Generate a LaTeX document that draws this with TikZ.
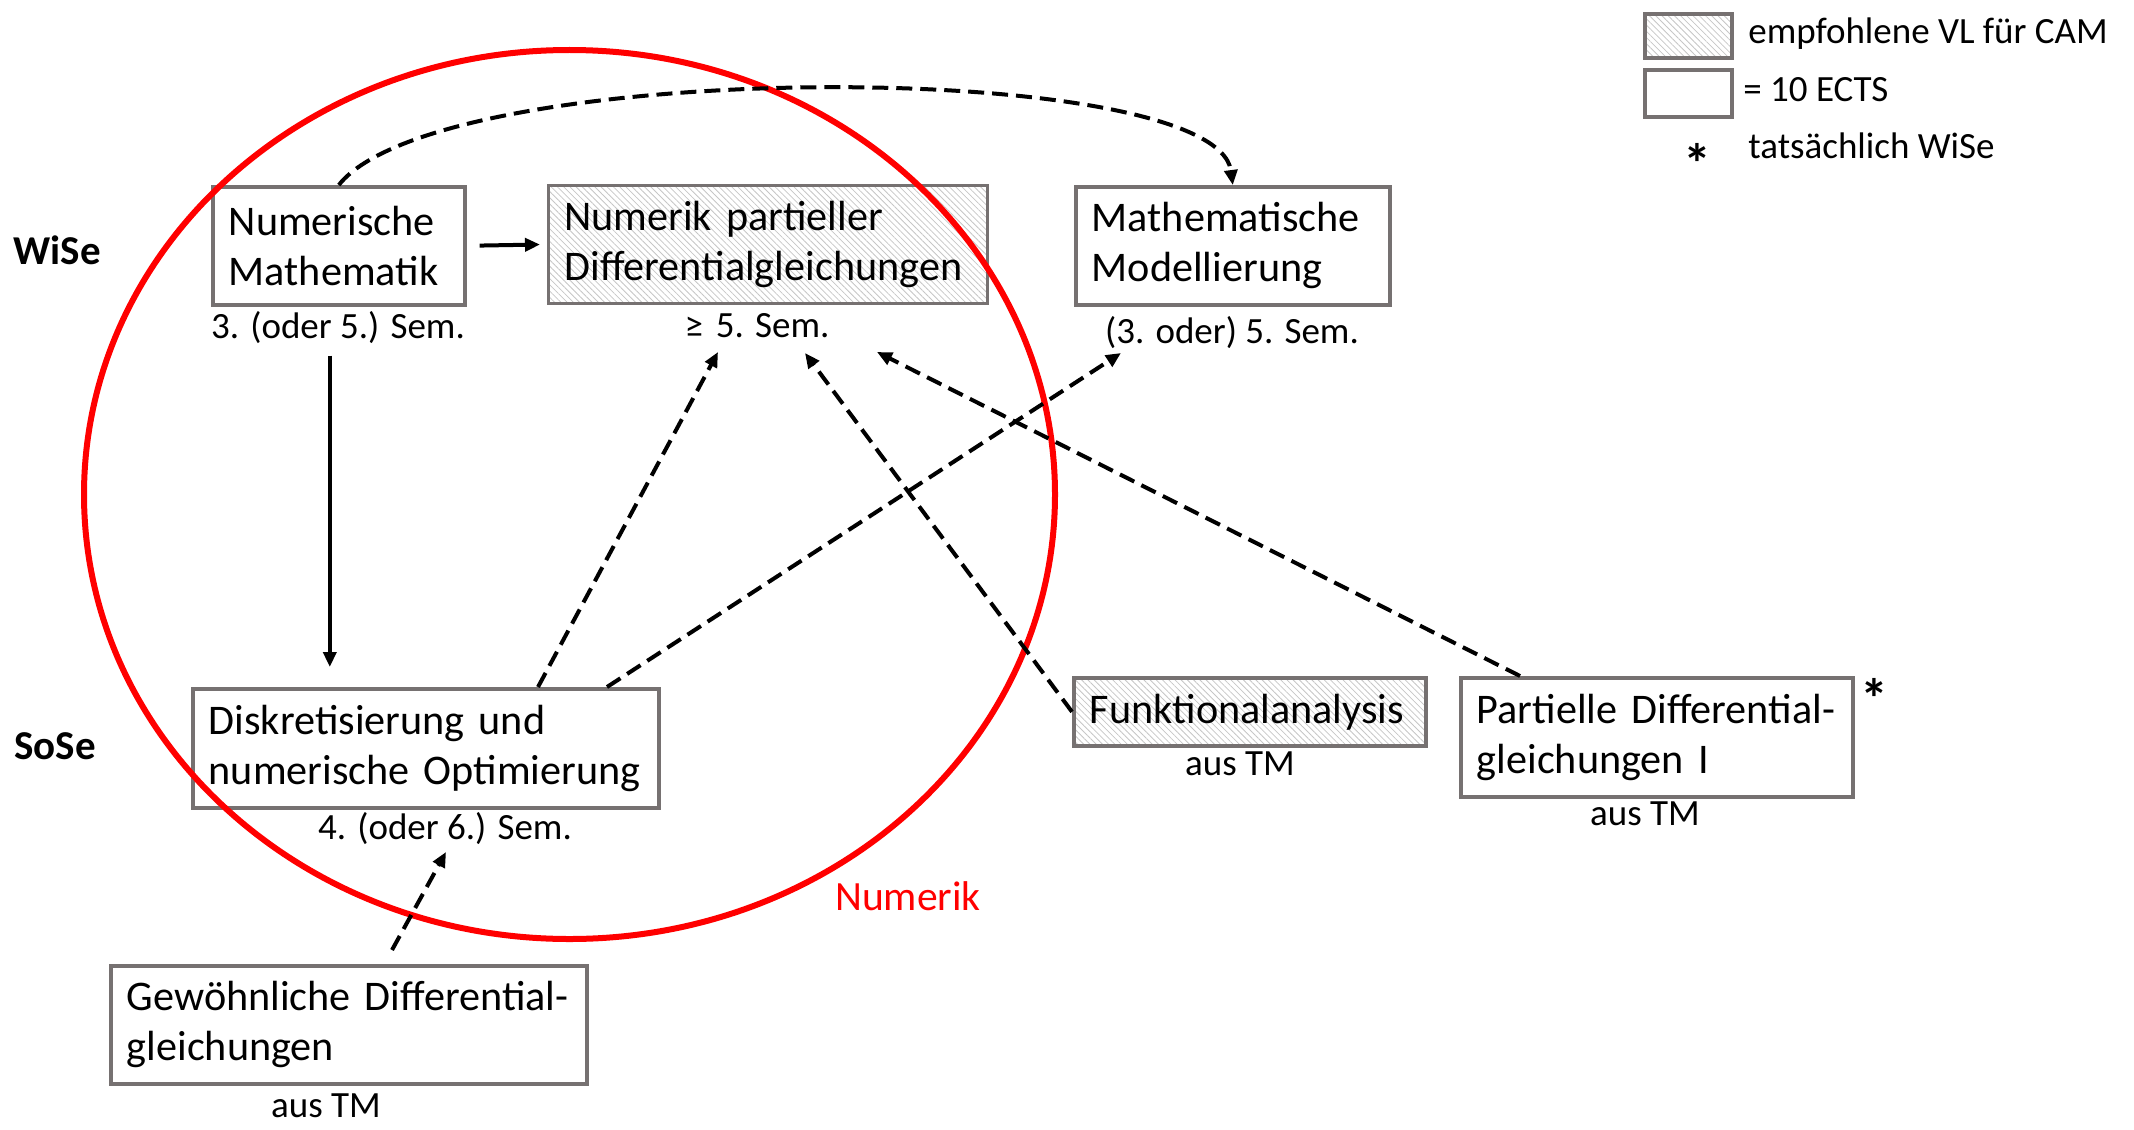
\documentclass[tikz,border=0pt]{standalone}
\usepackage{fontspec}
\setmainfont{Carlito}
\usetikzlibrary{arrows.meta,patterns.meta}
\definecolor{boxgray}{HTML}{767171}
\definecolor{numred}{HTML}{FF0000}

\tikzset{
  course/.style={draw=boxgray, line width=1.8pt, anchor=north west, align=left,
    inner xsep=8pt, inner ysep=0pt, font=\fontsize{21.1}{25}\selectfont},
  legbox/.style={draw=boxgray, line width=1.8pt, anchor=north west, inner sep=0pt},
  hatched/.style={pattern={Lines[angle=-45,distance=2.2pt,line width=0.4pt]}, pattern color=gray!45},
  semlabel/.style={font=\fontsize{18.5}{22}\selectfont, inner sep=0pt, anchor=base},
  termlabel/.style={font=\bfseries\fontsize{20.5}{24}\selectfont, inner sep=0pt},
  starmark/.style={font=\bfseries\fontsize{28}{30}\selectfont, inner sep=0pt, anchor=base},
  link/.style={line width=2pt, -{Triangle[length=7.5pt,width=6.5pt]}},
  dlink/.style={link, dash pattern=on 8pt off 4pt},
}

\begin{document}
\begin{tikzpicture}[x=0.5pt,y=-0.5pt]
\useasboundingbox (0,0) rectangle (2134,1129);

% semester rows
\node[termlabel] (wise) at (57,250) {WiSe};
\node[termlabel] (sose) at (55,746) {SoSe};

% courses
\node[course, minimum width=126pt, minimum height=59pt, text width=110pt] (A) at (211,185)
  {Numerische\\Mathematik};
\node[course, hatched, minimum width=219.5pt, minimum height=59pt, text width=203.5pt] (B) at (548,185)
  {Numerik partieller\\Differentialgleichungen};
\node[course, minimum width=157pt, minimum height=59pt, text width=141pt] (C) at (1074,185)
  {Mathematische\\Modellierung};
\node[course, minimum width=233pt, minimum height=59.5pt, text width=217pt] (D) at (191,687)
  {Diskretisierung und\\numerische Optimierung};
\node[course, hatched, minimum width=176pt, minimum height=34pt, text width=160pt] (E) at (1072,676)
  {Funktionalanalysis};
\node[course, minimum width=196pt, minimum height=59.5pt, text width=180pt] (F) at (1459,676)
  {Partielle Differential-\\gleichungen I};
\node[course, minimum width=238pt, minimum height=59pt, text width=222pt] (G) at (109,964)
  {Gewöhnliche Differential-\\gleichungen};

% semester notes below the boxes
\node[semlabel] (semA) at (338,338) {3. (oder 5.) Sem.};
\node[semlabel] (semB) at (757,337) {≥\hspace{0.35em}5. Sem.};
\node[semlabel] (semC) at (1232,343) {(3. oder) 5. Sem.};
\node[semlabel] (semD) at (445,839) {4. (oder 6.) Sem.};
\node[semlabel] (tmE) at (1240,775) {aus TM};
\node[semlabel] (tmF) at (1645,825) {aus TM};
\node[semlabel] (tmG) at (326,1117) {aus TM};
\node[starmark] (starF) at (1874,718) {*};

% the Numerik group
\draw[numred, line width=3pt] (569.5,494.5) ellipse [x radius=485.5, y radius=444.5];
\node[font=\fontsize{20.8}{25}\selectfont, text=numred, inner sep=0pt] (numerik) at (908,896) {Numerik};

% free ends of the dashed connectors
\coordinate (pB1) at (718,352);
\coordinate (pB2) at (805,353);
\coordinate (pB3) at (877,352);
\coordinate (pC1) at (1121,353);
\coordinate (pD1) at (446,852);

% connectors
\draw[link, shorten <=6.5pt, shorten >=4pt] (A.east) -- (B.west);
\draw[link, shorten <=24.5pt, shorten >=10pt] ([xshift=-4.5pt]A.south) -- ([xshift=-4.5pt]A.south |- D.north);
\draw[dlink] (A.north) .. controls (440,57) and (1216,57) .. (C.north);
\draw[dlink] ([xshift=173.5pt]D.north west) -- (pB1);
\draw[dlink] ([xshift=208pt]D.north west) -- (pC1);
\draw[dlink] (E.west) -- (pB2);
\draw[dlink] ([xshift=30.5pt]F.north west) -- (pB3);
\draw[dlink] ([xshift=141.5pt,yshift=7pt]G.north west) -- (pD1);

% legend
\node[legbox, hatched, minimum width=43.5pt, minimum height=22pt] (legH) at (1643,12) {};
\node[legbox, minimum width=43.5pt, minimum height=23.5pt] (legE) at (1643,68) {};
\node[semlabel, anchor=base west] (legHt) at (1748,44) {empfohlene VL für CAM};
\node[semlabel, anchor=base west] (legEt) at (1743,102) {= 10 ECTS};
\node[starmark] (legS) at (1697,183) {*};
\node[semlabel, anchor=base west] (legSt) at (1748,158) {tatsächlich WiSe};
\end{tikzpicture}
\end{document}
